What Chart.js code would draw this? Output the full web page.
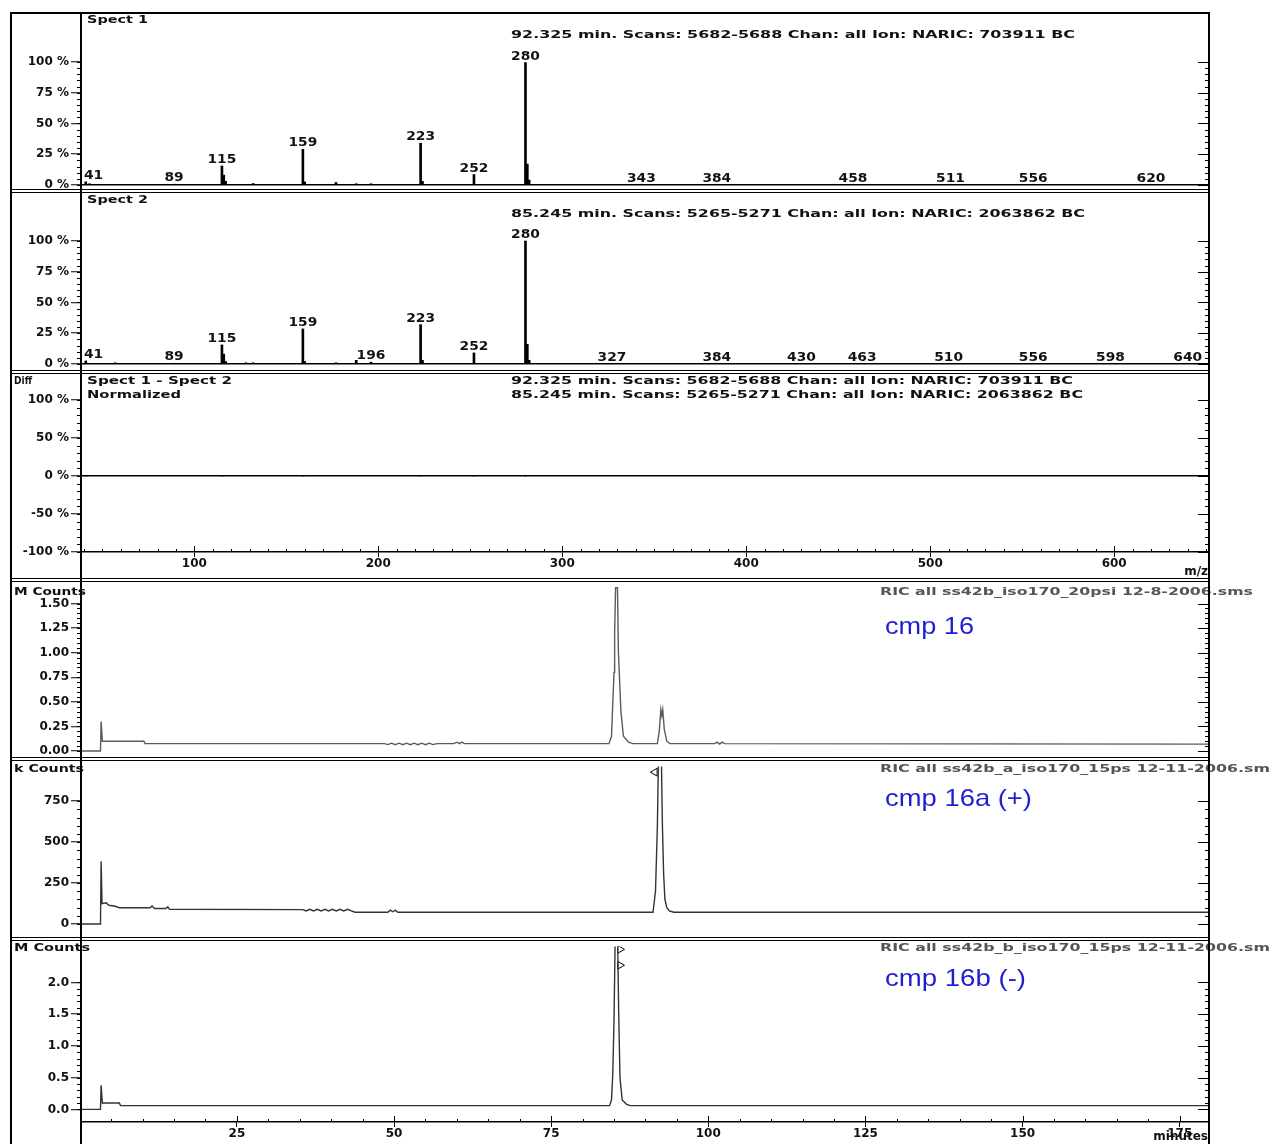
<!DOCTYPE html>
<html>
<head>
<meta charset="utf-8">
<script src="https://cdn.jsdelivr.net/npm/chart.js@4.4.1/dist/chart.umd.min.js"></script>
<style>
  html, body { margin: 0; padding: 0; background: #fff; }
  #page { position: relative; width: 1273px; height: 1144px; overflow: hidden; background: #fff; }
  canvas { position: absolute; left: 10px; }
  .ln { position: absolute; background: #000; }
</style>
</head>
<body>
<div id="page">
  <canvas id="spect1" width="1263" height="176" style="top:14px"></canvas>
  <canvas id="spect2" width="1263" height="177" style="top:194px"></canvas>
  <canvas id="diff"   width="1263" height="205" style="top:374px"></canvas>
  <canvas id="ric1"   width="1263" height="176" style="top:582px"></canvas>
  <canvas id="ric2"   width="1263" height="177" style="top:761px"></canvas>
  <canvas id="ric3"   width="1263" height="203" style="top:941px"></canvas>

  <!-- frame -->
  <div class="ln" style="left:10px;top:12px;width:1200px;height:2px"></div>
  <div class="ln" style="left:10px;top:12px;width:2px;height:1132px"></div>
  <div class="ln" style="left:80px;top:12px;width:2px;height:1132px"></div>
  <div class="ln" style="left:1208px;top:12px;width:2px;height:1132px"></div>
  <div class="ln" style="left:10px;top:189px;width:1200px;height:1px"></div>
  <div class="ln" style="left:10px;top:192px;width:1200px;height:1px"></div>
  <div class="ln" style="left:10px;top:370px;width:1200px;height:1px"></div>
  <div class="ln" style="left:10px;top:373px;width:1200px;height:1px"></div>
  <div class="ln" style="left:10px;top:578px;width:1200px;height:1px"></div>
  <div class="ln" style="left:10px;top:581px;width:1200px;height:1px"></div>
  <div class="ln" style="left:10px;top:757px;width:1200px;height:1px"></div>
  <div class="ln" style="left:10px;top:760px;width:1200px;height:1px"></div>
  <div class="ln" style="left:10px;top:937px;width:1200px;height:1px"></div>
  <div class="ln" style="left:10px;top:940px;width:1200px;height:1px"></div>
</div>
<script>
// ---- mass spectra (m/z, relative intensity %) ----
const spect1Mz     = [41, 43, 89, 115, 116, 117, 132, 159, 160, 177, 188, 196, 223, 224, 252, 280, 281, 282, 343, 384, 458, 511, 556, 620];
const spect1Int    = [2.5, 1, 0.5, 15.5, 8, 3, 1.2, 29, 2.5, 2, 1, 1, 34, 3, 8.5, 99.5, 17, 4, 0.3, 0.3, 0.3, 0.3, 0.3, 0.3];
const spect1Labels = [41, 89, 115, 159, 223, 252, 280, 343, 384, 458, 511, 556, 620];

const spect2Mz     = [41, 57, 89, 115, 116, 117, 128, 132, 159, 160, 177, 188, 196, 223, 224, 252, 280, 281, 282, 327, 384, 430, 463, 510, 556, 598, 640];
const spect2Int    = [2.5, 1, 0.5, 15.5, 8, 2, 1, 1, 28.5, 2, 1, 3, 1.5, 32, 3, 9, 100, 16, 3, 0.3, 0.3, 0.3, 0.3, 0.3, 0.3, 0.3, 0.3];
const spect2Labels = [41, 89, 115, 159, 196, 223, 252, 280, 327, 384, 430, 463, 510, 556, 598, 640];

// difference spectrum (normalized) - flat
const diffMz  = [41, 115, 159, 223, 252, 280];
const diffInt = [0, 0, 0, 0, 0, 0];

// ---- chromatograms (minutes, counts) ----
const ric1Time   = [0.2, 3.3, 3.4, 3.6, 10.2, 10.4, 48.5, 49.0, 49.6, 50.2, 50.8, 51.4, 52.0, 52.6, 53.2, 53.8, 54.4, 55.0, 55.6, 56.2, 56.8, 59.5, 60.0, 60.4, 60.8, 61.2,
                    84.2, 84.6, 84.8, 85.0, 85.1, 85.25, 85.55, 85.7, 85.9, 86.1, 86.5, 87.3, 88.0, 91.9, 92.2, 92.45, 92.6, 92.75, 93.0, 93.4, 93.9,
                    101.0, 101.4, 101.8, 102.2, 102.6, 179.5];
const ric1Counts = [0, 0, 0.30, 0.10, 0.10, 0.075, 0.075, 0.065, 0.08, 0.065, 0.08, 0.065, 0.08, 0.065, 0.08, 0.065, 0.08, 0.065, 0.08, 0.065, 0.075, 0.075, 0.09, 0.075, 0.09, 0.075,
                    0.075, 0.15, 0.48, 0.80, 1.21, 1.66, 1.66, 1.0, 0.70, 0.40, 0.15, 0.09, 0.075, 0.075, 0.2, 0.42, 0.36, 0.42, 0.22, 0.10, 0.075,
                    0.075, 0.09, 0.07, 0.09, 0.075, 0.07];

const ric2Time   = [0.2, 3.3, 3.4, 3.55, 4.2, 4.6, 5.5, 6.3, 11.2, 11.5, 11.9, 13.7, 14.0, 14.3, 35.5, 36.0, 36.6, 37.2, 37.8, 38.4, 39.0, 39.6, 40.2, 40.8, 41.4, 42.0, 42.6, 43.2, 43.8,
                    49.0, 49.4, 49.8, 50.2, 50.6, 91.2, 91.6, 91.9, 92.1, 92.5, 92.7, 92.9, 93.1, 93.4, 93.8, 94.5, 179.5];
const ric2Counts = [0, 0, 383, 125, 130, 115, 110, 100, 100, 110, 95, 95, 105, 90, 88, 80, 90, 80, 90, 80, 90, 80, 90, 80, 90, 80, 90, 80, 72,
                    72, 85, 75, 85, 72, 72, 200, 600, 1100, 1100, 600, 300, 150, 100, 80, 72, 72];
const ric2MarkTime  = [91.5];
const ric2MarkCount = [927];

const ric3Time   = [0.2, 3.3, 3.4, 3.6, 6.3, 6.5, 84.3, 84.6, 84.8, 85.0, 85.2, 85.55, 85.75, 85.95, 86.3, 87.0, 87.6, 179.5];
const ric3Counts = [0, 0, 0.38, 0.10, 0.10, 0.06, 0.06, 0.15, 0.55, 1.4, 2.8, 2.8, 1.5, 0.5, 0.15, 0.08, 0.06, 0.06];
const ric3MarkTime  = [85.95, 85.95];
const ric3MarkCount = [2.52, 2.27];

// ---- axis ticks ----
const mzTicks     = [100, 200, 300, 400, 500, 600];
const minuteTicks = [25, 50, 75, 100, 125, 150, 175];
const pctTicks    = [0, 25, 50, 75, 100];
const diffTicks   = [-100, -50, 0, 50, 100];
const ric1Ticks   = [0, 0.25, 0.5, 0.75, 1.0, 1.25, 1.5];
const ric2Ticks   = [0, 250, 500, 750];
const ric3Ticks   = [0, 0.5, 1.0, 1.5, 2.0];

// ---- layout ----
const PAGE_LEFT = 10, AXIS_W = 71, RIGHT_PAD = 65;
const MZ_MIN = 38.4, MZ_MAX = 651, T_MIN = 0.2, T_MAX = 179.5;
const TICK_FONT = { family: 'DejaVu Sans', size: 12, weight: 'bold' };
const HDR = 'bold 11px "DejaVu Sans"';
const BLUE = '24px "Liberation Sans"';
const decorById = {};

function drawNote(ctx, n, top) {
  ctx.save();
  ctx.font = n.font || HDR;
  ctx.fillStyle = n.color || '#111';
  ctx.textBaseline = 'middle';
  ctx.textAlign = 'left';
  const w = ctx.measureText(n.text).width;
  ctx.translate(n.x - PAGE_LEFT, n.y - top);
  if (n.width) ctx.scale(n.width / w, 1);
  ctx.fillText(n.text, 0, 0);
  ctx.restore();
}

// tick marks, peak labels and panel texts
const decor = {
  id: 'decor',
  afterDatasetsDraw(chart) {
    const o = decorById[chart.canvas.id];
    if (!o) return;
    const { ctx, chartArea: a } = chart;
    const xs = chart.scales.x, ys = chart.scales.y;
    ctx.save();
    ctx.strokeStyle = '#000';
    ctx.lineWidth = 1;
    const seg = (x1, y1, x2, y2) => { ctx.beginPath(); ctx.moveTo(x1, y1); ctx.lineTo(x2, y2); ctx.stroke(); };

    const yt = o.yTicks;
    const i0 = Math.round(yt[0] / o.yMinor), i1 = Math.round(yt[yt.length - 1] / o.yMinor);
    for (let i = i0; i <= i1; i++) {
      const v = i * o.yMinor;
      const py = Math.round(ys.getPixelForValue(v)) + 0.5;
      const major = yt.some(t => Math.abs(t - v) < o.yMinor / 10);
      seg(a.left - 4, py, a.left, py);
      seg(a.right - (major ? 10 : 3), py, a.right, py);
    }
    if (o.xMinor) {
      const j0 = Math.ceil(xs.min / o.xMinor), j1 = Math.floor(xs.max / o.xMinor);
      for (let j = j0; j <= j1; j++) {
        const v = j * o.xMinor;
        const px = Math.round(xs.getPixelForValue(v)) + 0.5;
        const major = o.xTicks.includes(v);
        seg(px, a.bottom, px, a.bottom - (major ? 6 : 3));
      }
    }
    if (o.labels) {
      ctx.font = 'bold 12px "DejaVu Sans"';
      ctx.fillStyle = '#111';
      ctx.textAlign = 'center';
      ctx.textBaseline = 'alphabetic';
      o.labels.forEach(m => {
        const v = o.inten[o.mz.indexOf(m)];
        const hw = ctx.measureText(String(m)).width * 1.15 / 2;
        const px = Math.max(xs.getPixelForValue(m), a.left + hw + 3);
        const py = ys.getPixelForValue(v) - 3;
        ctx.save();
        ctx.translate(px, py);
        ctx.scale(1.15, 1);
        ctx.fillText(String(m), 0, 0);
        ctx.restore();
      });
    }
    (o.notes || []).forEach(n => drawNote(ctx, n, o.top));
    ctx.restore();
  }
};
Chart.register(decor);

function xScale(min, max, ticks, show, h, title) {
  return {
    type: 'linear', min, max, display: show, offset: false,
    afterBuildTicks: s => { s.ticks = ticks.map(v => ({ value: v })); },
    afterFit: s => { s.height = h || 0; s.paddingLeft = 0; s.paddingRight = 0; },
    ticks: { font: TICK_FONT, color: '#111', padding: 0, maxRotation: 0, autoSkip: false, callback: v => String(v) },
    grid: { offset: false, drawOnChartArea: false, tickLength: 5, color: '#000', tickColor: '#000' },
    border: { display: true, color: '#000', width: 1.5 },
    title: { display: !!title, text: title || '', align: 'end', color: '#111', font: TICK_FONT, padding: 0 }
  };
}

function yScale(min, max, ticks, fmt, zeroLine) {
  return {
    min, max,
    afterBuildTicks: s => { s.ticks = ticks.map(v => ({ value: v })); },
    afterFit: s => { s.width = AXIS_W; s.paddingTop = 0; s.paddingBottom = 0; },
    ticks: { font: TICK_FONT, color: '#111', padding: 2, autoSkip: false, callback: v => fmt(v) },
    grid: {
      drawOnChartArea: zeroLine, drawTicks: true, tickLength: 10,
      color: c => (c.tick && c.tick.value === 0) ? '#000' : 'rgba(0,0,0,0)',
      lineWidth: 1.5, tickColor: '#000', tickWidth: 1
    },
    border: { display: false }
  };
}

function baseOptions(scales) {
  return {
    responsive: false, devicePixelRatio: 1, animation: false, events: [],
    layout: { padding: { left: 0, right: RIGHT_PAD, top: 0, bottom: 0 } },
    plugins: { legend: { display: false }, tooltip: { enabled: false } },
    scales
  };
}

const pct = v => v + ' %';

function spectrumChart(id, top, mz, inten, labels, yMin, yMax, notes) {
  decorById[id] = { top, yTicks: pctTicks, yMinor: 5, mz, inten, labels, notes };
  new Chart(document.getElementById(id), {
    type: 'bar',
    data: { datasets: [{ data: mz.map((m, i) => ({ x: m, y: inten[i] })), backgroundColor: '#000', barThickness: 2 }] },
    options: baseOptions({ x: xScale(MZ_MIN, MZ_MAX, mzTicks, false), y: yScale(yMin, yMax, pctTicks, pct, true) })
  });
}

function ricChart(c) {
  decorById[c.id] = { top: c.top, yTicks: c.ticks, yMinor: c.minor, xTicks: minuteTicks, xMinor: c.xShow ? 5 : 0, notes: c.notes };
  const datasets = [{
    type: 'line', data: c.time.map((t, i) => ({ x: t, y: c.counts[i] })),
    borderColor: c.color, borderWidth: 1.4, pointRadius: 0, tension: 0
  }];
  if (c.markT) {
    datasets.push({
      type: 'line', showLine: false, data: c.markT.map((t, i) => ({ x: t, y: c.markV[i] })),
      pointStyle: 'triangle', pointRotation: c.markRot, pointRadius: 4.5,
      pointBackgroundColor: '#fff', pointBorderColor: '#000', pointBorderWidth: 1
    });
  }
  new Chart(document.getElementById(c.id), {
    type: 'line',
    data: { datasets },
    options: baseOptions({
      x: xScale(T_MIN, T_MAX, minuteTicks, c.xShow, c.xH, c.xShow ? 'minutes' : ''),
      y: yScale(c.yMin, c.yMax, c.ticks, c.fmt, false)
    })
  });
}

spectrumChart('spect1', 14, spect1Mz, spect1Int, spect1Labels, -4.07, 139.0, [
  { text: 'Spect 1', x: 87, y: 20, width: 61 },
  { text: '92.325 min. Scans: 5682-5688 Chan: all Ion: NARIC: 703911 BC', x: 511, y: 35, width: 564 }
]);
spectrumChart('spect2', 194, spect2Mz, spect2Int, spect2Labels, -5.69, 138.2, [
  { text: 'Spect 2', x: 87, y: 200, width: 61 },
  { text: '85.245 min. Scans: 5265-5271 Chan: all Ion: NARIC: 2063862 BC', x: 511, y: 214, width: 574 }
]);

// difference panel
decorById['diff'] = {
  top: 374, yTicks: diffTicks, yMinor: 10, xTicks: mzTicks, xMinor: 10, notes: [
    { text: 'Diff', x: 14, y: 381, width: 18 },
    { text: 'Spect 1 - Spect 2', x: 87, y: 381, width: 145 },
    { text: 'Normalized', x: 87, y: 395, width: 94 },
    { text: '92.325 min. Scans: 5682-5688 Chan: all Ion: NARIC: 703911 BC', x: 511, y: 381, width: 562 },
    { text: '85.245 min. Scans: 5265-5271 Chan: all Ion: NARIC: 2063862 BC', x: 511, y: 395, width: 572 }
  ]
};
new Chart(document.getElementById('diff'), {
  type: 'bar',
  data: { datasets: [{ data: diffMz.map((m, i) => ({ x: m, y: diffInt[i] })), backgroundColor: '#000', barThickness: 2 }] },
  options: baseOptions({
    x: xScale(MZ_MIN, MZ_MAX, mzTicks, true, 27, 'm/z'),
    y: yScale(-100, 134.2, diffTicks, pct, true)
  })
});

ricChart({
  id: 'ric1', top: 582, time: ric1Time, counts: ric1Counts, color: '#5a5a5a',
  yMin: -0.071, yMax: 1.719, ticks: ric1Ticks, minor: 0.05, fmt: v => v.toFixed(2), xShow: false,
  notes: [
    { text: 'M Counts', x: 14, y: 592, width: 72 },
    { text: 'RIC all ss42b_iso170_20psi 12-8-2006.sms', x: 880, y: 592, width: 373, color: '#555' },
    { text: 'cmp 16', x: 885, y: 627, width: 89, font: BLUE, color: '#1f1fd2' }
  ]
});
ricChart({
  id: 'ric2', top: 761, time: ric2Time, counts: ric2Counts, color: '#333',
  yMin: -51.5, yMax: 961.6, ticks: ric2Ticks, minor: 50, fmt: v => String(v), xShow: false,
  markT: ric2MarkTime, markV: ric2MarkCount, markRot: 270,
  notes: [
    { text: 'k Counts', x: 14, y: 769, width: 70 },
    { text: 'RIC all ss42b_a_iso170_15ps 12-11-2006.sm', x: 880, y: 769, width: 390, color: '#555' },
    { text: 'cmp 16a (+)', x: 885, y: 799, width: 147, font: BLUE, color: '#1f1fd2' }
  ]
});
ricChart({
  id: 'ric3', top: 941, time: ric3Time, counts: ric3Counts, color: '#333',
  yMin: -0.198, yMax: 2.565, ticks: ric3Ticks, minor: 0.1, fmt: v => v.toFixed(1), xShow: true, xH: 22,
  markT: ric3MarkTime, markV: ric3MarkCount, markRot: 90,
  notes: [
    { text: 'M Counts', x: 14, y: 948, width: 76 },
    { text: 'RIC all ss42b_b_iso170_15ps 12-11-2006.sm', x: 880, y: 948, width: 390, color: '#555' },
    { text: 'cmp 16b (-)', x: 885, y: 979, width: 141, font: BLUE, color: '#1f1fd2' }
  ]
});
</script>
</body>
</html>
